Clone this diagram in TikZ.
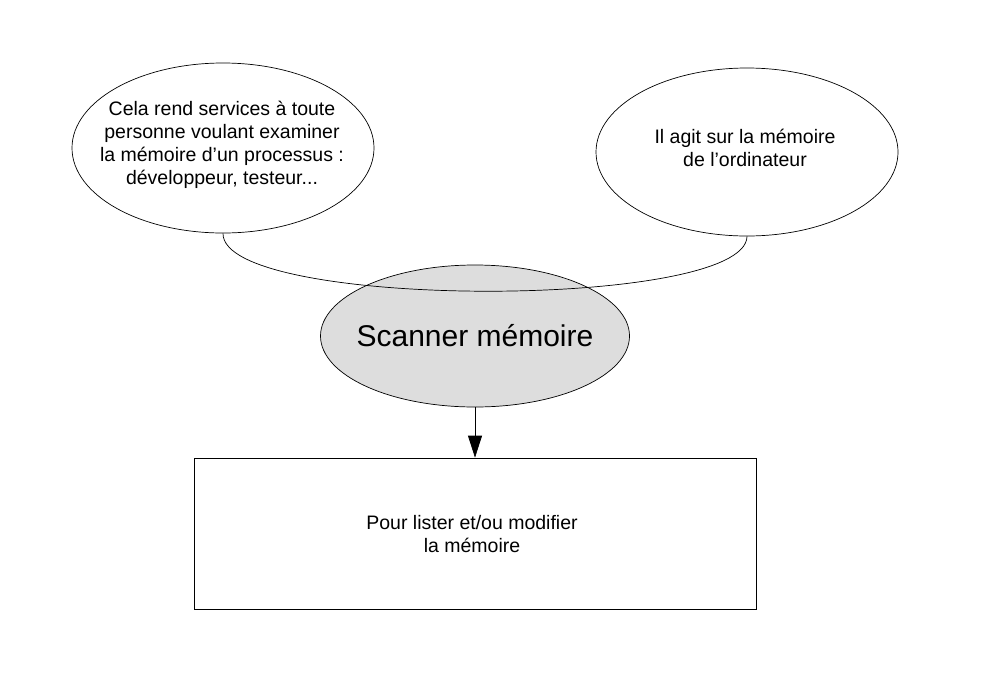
\documentclass[tikz,border=0pt]{standalone}
\usepackage{fontspec}
\setmainfont{Liberation Sans}
\usetikzlibrary{shapes.geometric,arrows.meta}
\begin{document}
\begin{tikzpicture}[x=1pt,y=-1pt,
  bubble/.style={draw=black,line width=0.7pt,ellipse,inner sep=0pt},
  small/.style={font=\fontsize{19.5}{23}\selectfont,align=center},
  link/.style={draw=black,line width=0.7pt}]
\useasboundingbox (0,0) rectangle (992,699);
\fill[white] (0,0) rectangle (992,699);
\node[bubble,minimum width=302pt,minimum height=170pt] (left) at (223,148) {};
\node[small] (lefttext) at (222,145) {Cela rend services à toute\\personne voulant examiner\\la mémoire d’un processus :\\ développeur, testeur...};
\node[bubble,minimum width=302pt,minimum height=168pt] (right) at (747,152) {};
\node[small] (righttext) at (745,148) {Il agit sur la mémoire\\ de l’ordinateur};
\node[bubble,fill={rgb,255:red,221;green,221;blue,221},minimum width=309pt,minimum height=142pt] (scan) at (475,336) {};
\node[font=\fontsize{30}{34}\selectfont] (scantext) at (475,336) {Scanner mémoire};
\node[draw=black,line width=0.7pt,minimum width=562pt,minimum height=151pt,inner sep=0pt] (box) at (475,533.5) {};
\node[small] (boxtext) at (472,534) {Pour lister et/ou modifier\\la mémoire};
\draw[link] (left.south) .. controls (222,310) and (746,310) .. (right.south);
\draw[link,-{Triangle[length=22pt,width=14pt]}] (scan.south) -- (box.north);
\end{tikzpicture}
\end{document}
